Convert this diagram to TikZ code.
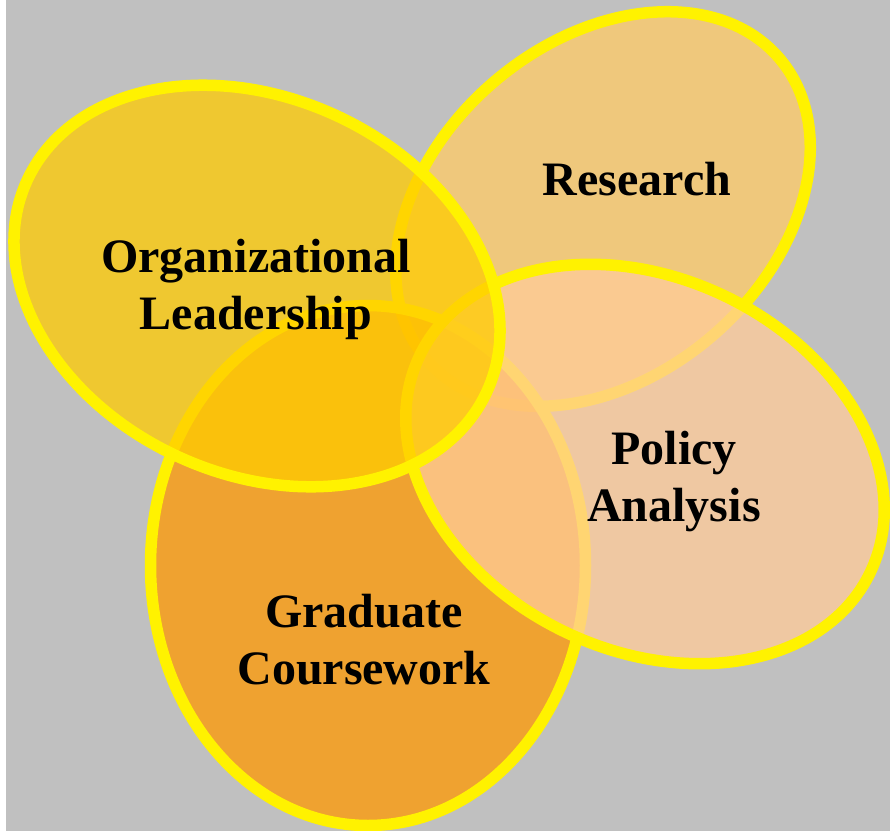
\documentclass[tikz,border=0pt]{standalone}
\usepackage{fontspec}
\setmainfont{Liberation Serif}
\usepackage{xcolor}

\definecolor{backgrey}{RGB}{192,192,192}
\definecolor{orgfill}{RGB}{255,204,0}
\definecolor{resfill}{RGB}{255,204,102}
\definecolor{polfill}{RGB}{255,204,153}
\definecolor{gradfill}{RGB}{255,153,0}

\begin{document}
\begin{tikzpicture}[x=0.5pt,y=-0.5pt,
    petal/.style={draw=yellow, line width=5.75pt, fill opacity=0.75},
    petaltext/.style={font=\bfseries\fontsize{24}{28.5}\selectfont, align=center, text=black}]

\useasboundingbox (0,0) rectangle (890,831);
\fill [white] (0,0) rectangle (890,831);
\fill [backgrey] (6,0) rectangle (890,831);
\clip (0,0) rectangle (890,831);

% the four ellipses, back to front
\draw [petal, fill=resfill, rotate around={40.5:(603,209)}] (603,209) ellipse [x radius=232, y radius=167.5];
\draw [petal, fill=gradfill] (368,565.5) ellipse [x radius=217.5, y radius=260];
\draw [petal, fill=polfill, rotate around={-25.8:(645,464)}] (645,464) ellipse [x radius=250, y radius=186];
\draw [petal, fill=orgfill, rotate around={-24.6:(257,286)}] (257,286) ellipse [x radius=253, y radius=188];

\node [petaltext] (org) at (256,289) {Organizational\\Leadership};
\node [petaltext] (res) at (637,179) {Research};
\node [petaltext] (pol) at (674,482) {Policy\\Analysis};
\node [petaltext] (grad) at (364,640) {Graduate\\Coursework};

\end{tikzpicture}
\end{document}
